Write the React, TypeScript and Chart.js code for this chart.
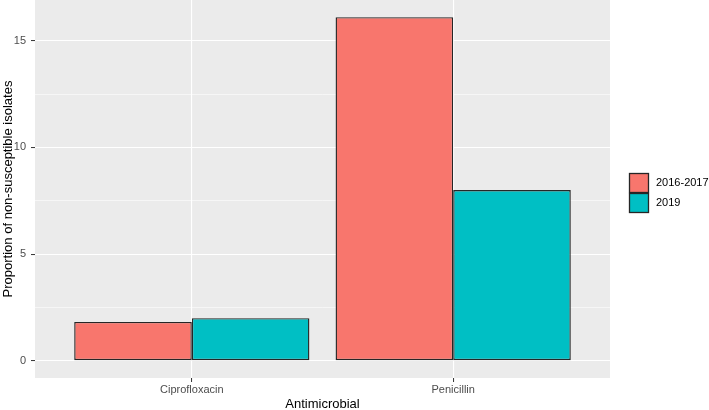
import React, { useEffect, useRef } from "react";
import { Chart, registerables } from "chart.js";

Chart.register(...registerables);

const categories = ["Ciprofloxacin", "Penicillin"];
const seriesNames = ["2016-2017", "2019"];
const values2016_2017 = [1.82, 16.1];
const values2019 = [2.0, 8.0];
const seriesColors = ["#F8766D", "#00BFC4"];
const yTickValues = [0, 2.5, 5, 7.5, 10, 12.5, 15];
const xPositions = [1, 2];

const FONT = "'Liberation Sans', Arial, sans-serif";

const panelBg = {
  id: "panelBg",
  beforeDraw(chart: any) {
    const { ctx, chartArea, width, height } = chart;
    ctx.save();
    ctx.fillStyle = "#FFFFFF";
    ctx.fillRect(0, 0, width, height);
    ctx.fillStyle = "#EBEBEB";
    ctx.fillRect(chartArea.left, chartArea.top, chartArea.right - chartArea.left, chartArea.bottom - chartArea.top);
    ctx.restore();
  },
};

const ggLegend = {
  id: "ggLegend",
  afterDraw(chart: any) {
    const { ctx, chartArea } = chart;
    const ds = chart.data.datasets;
    const key = 20;
    const x0 = chartArea.right + 19;
    const center = (chartArea.top + chartArea.bottom) / 2 + 4;
    const y0 = center - (key * ds.length) / 2;
    ctx.save();
    ds.forEach((d: any, i: number) => {
      const y = y0 + i * key;
      ctx.fillStyle = d.backgroundColor;
      ctx.fillRect(x0, y, key, key);
      ctx.strokeStyle = "#262626";
      ctx.lineWidth = 1.3;
      ctx.strokeRect(x0 + 0.5, y + 0.5, key - 1, key - 1);
      ctx.fillStyle = "#000000";
      ctx.font = `11px ${FONT}`;
      ctx.textAlign = "left";
      ctx.textBaseline = "middle";
      ctx.fillText(d.label, x0 + key + 7, y + key / 2);
    });
    ctx.restore();
  },
};

export default function App() {
  const ref = useRef<HTMLCanvasElement | null>(null);

  useEffect(() => {
    document.body.style.margin = "0";
    if (!ref.current) return;
    const mk = (vals: number[]) => vals.map((v, i) => ({ x: xPositions[i], y: v }));
    const chart = new Chart(ref.current, {
      type: "bar",
      data: {
        datasets: [
          {
            label: seriesNames[0],
            data: mk(values2016_2017),
            backgroundColor: seriesColors[0],
            borderColor: "#262626",
            borderWidth: 1.4,
            borderSkipped: false,
          },
          {
            label: seriesNames[1],
            data: mk(values2019),
            backgroundColor: seriesColors[1],
            borderColor: "#262626",
            borderWidth: 1.4,
            borderSkipped: false,
          },
        ] as any,
      },
      options: {
        animation: false,
        responsive: false,
        events: [],
        layout: { padding: { left: 0, top: 0, right: 99, bottom: 0 } },
        datasets: { bar: { categoryPercentage: 0.9, barPercentage: 1 } } as any,
        plugins: {
          legend: { display: false },
          tooltip: { enabled: false },
        },
        scales: {
          x: {
            type: "linear",
            min: 0.4,
            max: 2.6,
            offset: false,
            afterBuildTicks: (scale: any) => {
              scale.ticks = xPositions.map((v) => ({ value: v }));
            },
            afterFit: (scale: any) => {
              scale.height = 32;
              scale.paddingLeft = 0;
              scale.paddingRight = 0;
            },
            ticks: {
              autoSkip: false,
              maxRotation: 0,
              padding: 1.5,
              color: "#4D4D4D",
              font: { family: FONT, size: 11 },
              callback: (v: any) => {
                const i = xPositions.indexOf(Number(v));
                return i >= 0 ? categories[i] : "";
              },
            },
            grid: {
              offset: false,
              color: "#FFFFFF",
              lineWidth: 1.1,
              drawTicks: true,
              tickLength: 4,
              tickColor: "#333333",
              tickWidth: 1,
            },
            border: { display: false },
            title: {
              display: true,
              text: "Antimicrobial",
              color: "#000000",
              font: { family: FONT, size: 13 },
              padding: { top: 0, bottom: -2.5 },
            },
          },
          y: {
            type: "linear",
            min: -0.805,
            max: 16.905,
            afterBuildTicks: (scale: any) => {
              scale.ticks = yTickValues.map((v) => ({ value: v }));
            },
            afterFit: (scale: any) => {
              scale.width = 35;
              scale.paddingTop = 0;
              scale.paddingBottom = 0;
            },
            ticks: {
              autoSkip: false,
              padding: 5,
              color: "#4D4D4D",
              font: { family: FONT, size: 11 },
              callback: (v: any) => (Number(v) % 5 === 0 ? String(v) : ""),
            },
            grid: {
              color: "#FFFFFF",
              lineWidth: (c: any) => (c.tick && c.tick.value % 5 === 0 ? 1.1 : 0.55),
              drawTicks: true,
              tickLength: 4,
              tickColor: (c: any) => (c.tick && c.tick.value % 5 === 0 ? "#333333" : "rgba(0,0,0,0)"),
              tickWidth: 1,
            },
            border: { display: false },
            title: {
              display: true,
              text: "Proportion of non-susceptible isolates",
              color: "#000000",
              font: { family: FONT, size: 13 },
              padding: { top: 1, bottom: 0 },
            },
          },
        },
      } as any,
      plugins: [panelBg, ggLegend],
    });
    return () => chart.destroy();
  }, []);

  return (
    <div style={{ width: 709, height: 410 }}>
      <canvas ref={ref} width={709} height={410} style={{ display: "block" }} />
    </div>
  );
}
